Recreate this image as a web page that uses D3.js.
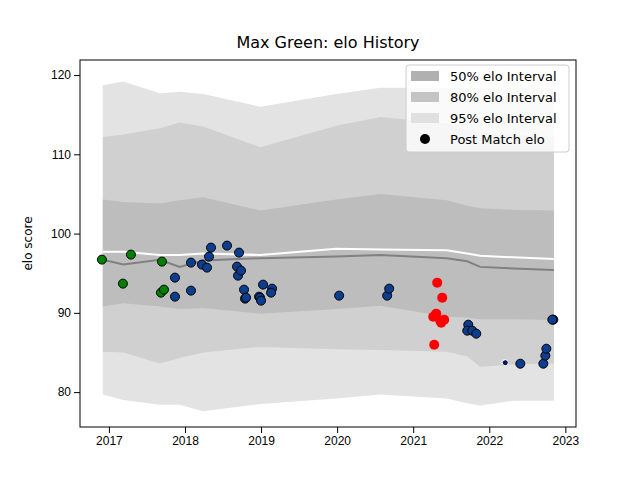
<!DOCTYPE html>
<html><head><meta charset="utf-8">
<script src="https://cdn.jsdelivr.net/npm/d3@7"></script>
<style>body{margin:0;background:#fff;font-family:"DejaVu Sans",sans-serif}</style>
</head><body><div id="graph"></div>
<script>
// band boundaries: [year, value]
const band_years = [2016.92, 2017.19, 2017.67, 2017.93, 2018.24, 2018.99, 2019.99, 2020.57, 2021.44, 2021.71, 2021.88, 2022.32, 2022.85];
const hi95 = [118.7, 119.2, 117.7, 117.9, 117.6, 116.0, 117.6, 118.4, 118.4, 118.4, 118.4, 118.4, 118.4];
const hi80 = [112.2, 112.5, 113.3, 114.0, 113.5, 110.9, 113.6, 114.7, 113.9, 113.0, 112.8, 112.5, 112.2];
const hi50 = [104.3, 104.0, 103.8, 104.2, 104.6, 102.9, 104.3, 105.0, 104.2, 103.5, 103.2, 103.0, 102.9];
const med = [96.7, 96.1, 96.7, 95.8, 96.6, 96.9, 97.1, 97.3, 96.9, 96.5, 95.8, 95.6, 95.4];
const mean = [97.7, 97.7, 97.3, 97.3, 97.5, 97.3, 98.1, 98.0, 97.9, 97.5, 97.2, 97.0, 96.8];
const lo50 = [90.8, 91.2, 90.8, 90.5, 90.6, 89.9, 90.5, 90.9, 89.5, 89.4, 89.2, 89.2, 89.1];
const lo80 = [85.1, 85.0, 83.6, 84.3, 85.0, 85.7, 85.4, 85.3, 85.1, 84.5, 83.2, 83.5, 83.6];
const lo95 = [79.7, 79.0, 78.4, 78.4, 77.6, 78.5, 79.2, 79.7, 79.2, 78.6, 78.3, 78.9, 78.9];

const green_pts = [[102,259],[123,283],[131,254],[162,261],[161,292],[164,289]];
const blue_pts = [[175,277],[175,296],[191,262],[191,290],[202,264],[207,267],[209,256],[211,247],[227,245],[239,252],[237,266],[238,275],[241,270],[244,289],[245,298],[246,297],[259,296],[260,297],[263,284],[261,300],[272,288],[271,292],[339,295],[387,295],[389,288],[468,324],[467,330],[472,330],[476,333],[520,363],[543,363],[545,355],[546,348],[553,319],[552,319]];
const red_pts = [[437,282],[442,297],[436,313],[433,316],[441,322],[444,319],[434,344],[440,320]];
const navy_pts = [[504,362],[505,362]];
const to_val = (p) => ({year: 2017 + (p[0] - 109) / 76, elo: 100 - (p[1] - 233) / 7.92});

const x_ticks = [2017, 2018, 2019, 2020, 2021, 2022, 2023];
const y_ticks = [80, 90, 100, 110, 120];

const margin = {top: 60, right: 64, bottom: 53, left: 80};
const width = 640 - margin.left - margin.right;
const height = 480 - margin.top - margin.bottom;

const x = d3.scaleLinear().domain([2016.62, 2023.14]).range([0, width]);
const y = d3.scaleLinear().domain([75.6, 121.9]).range([height, 0]);

const svg = d3.select("#graph").append("svg")
    .attr("width", 640).attr("height", 480)
  .append("g")
    .attr("transform", "translate(" + margin.left + "," + margin.top + ")");

const band = (lo, hi) => d3.area()
    .x((d, i) => x(band_years[i]))
    .y0((d, i) => y(lo[i]))
    .y1((d, i) => y(hi[i]))(band_years);

svg.append("path").attr("d", band(lo95, hi95)).attr("fill", "#e3e3e3");
svg.append("path").attr("d", band(lo80, hi80)).attr("fill", "#d0d0d0");
svg.append("path").attr("d", band(lo50, hi50)).attr("fill", "#bdbdbd");

const line = (v) => d3.line().x((d, i) => x(band_years[i])).y((d, i) => y(v[i]))(band_years);
svg.append("path").attr("d", line(med)).attr("fill", "none").attr("stroke", "#808080").attr("stroke-width", 2);
svg.append("path").attr("d", line(mean)).attr("fill", "none").attr("stroke", "#fff").attr("stroke-width", 2);

const dots = (pts, fill, stroke, r) => {
  svg.selectAll(null).data(pts.map(to_val)).enter().append("circle")
      .attr("cx", (d) => x(d.year)).attr("cy", (d) => y(d.elo))
      .attr("r", r).attr("fill", fill)
      .attr("stroke", stroke).attr("stroke-width", 1);
};
dots(green_pts, "#008000", "#000", 4.5);
dots(blue_pts, "#0d3d8f", "#000", 4.5);
dots(red_pts, "#ff0000", "none", 5);
dots(navy_pts, "#0a1450", "#fff", 3);

svg.append("g").attr("transform", "translate(0," + height + ")")
    .call(d3.axisBottom(x).tickValues(x_ticks).tickFormat(d3.format("d")).tickSizeOuter(0))
    .style("font-size", "12px");
svg.append("g")
    .call(d3.axisLeft(y).tickValues(y_ticks).tickSizeOuter(0))
    .style("font-size", "12px");
svg.selectAll(".domain").remove();
svg.append("rect").attr("width", width).attr("height", height)
    .attr("fill", "none").attr("stroke", "#000").attr("stroke-width", 1);
svg.selectAll(".tick text").attr("fill", "#000");

svg.append("text").attr("x", width / 2).attr("y", -12)
    .attr("text-anchor", "middle").style("font-size", "16px").text("Max Green: elo History");
svg.append("text").attr("transform", "rotate(-90)")
    .attr("x", -height / 2).attr("y", -48)
    .attr("text-anchor", "middle").style("font-size", "12px").text("elo score");

// legend
const legend_labels = ["50% elo Interval", "80% elo Interval", "95% elo Interval", "Post Match elo"];
const legend_colors = ["#b0b0b0", "#c4c4c4", "#e0e0e0", null];
const lg = svg.append("g").attr("transform", "translate(326,5)");
lg.append("rect").attr("width", 163).attr("height", 87).attr("rx", 3)
    .attr("fill", "#fff").attr("fill-opacity", 0.8).attr("stroke", "#ccc");
legend_labels.forEach((t, i) => {
  const cy = 11 + i * 21;
  if (legend_colors[i]) {
    lg.append("rect").attr("x", 5).attr("y", cy - 5).attr("width", 28).attr("height", 10)
        .attr("fill", legend_colors[i]);
  } else {
    lg.append("circle").attr("cx", 19).attr("cy", cy).attr("r", 5).attr("fill", "#000");
  }
  lg.append("text").attr("x", 44).attr("y", cy + 4.5).style("font-size", "13px").text(t);
});
</script></body></html>
